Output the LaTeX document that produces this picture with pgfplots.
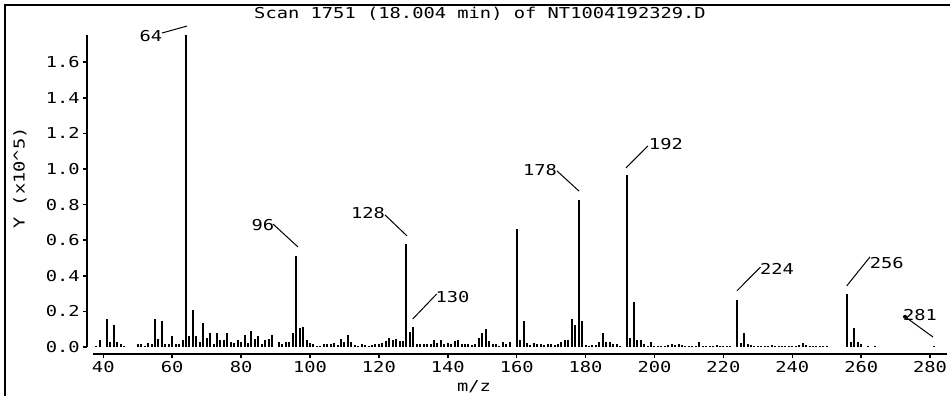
\documentclass[border=0pt]{standalone}
\usepackage{fontspec}
\setmainfont{DejaVu Sans Mono}[FakeStretch=1.25]
\usepackage{pgfplots}
\pgfplotsset{compat=1.18}
\newcommand\lf{\fontsize{15}{17}\selectfont}
\begin{document}
\begin{tikzpicture}[x=1pt,y=1pt]
\useasboundingbox (0,0) rectangle (950,396);
\fill[black] (4,0) rectangle (6,392);
\fill[black] (4,390) rectangle (950,392);
\node[font=\lf, anchor=base] at (480,377) {Scan 1751 (18.004 min) of NT1004192329.D};
\node[font=\lf, rotate=90] at (20,218) {Y (x10\textasciicircum 5)};
\node[font=\lf, anchor=base] at (474,4.5) {m/z};
\begin{axis}[
  at={(87.3pt,42pt)}, anchor=south west,
  x=3.445pt, y=178pt,
  xmin=35.36, xmax=285, ymin=-0.0393, ymax=1.753,
  axis x line*=bottom, axis y line*=left,
  axis line style={draw=none},
  tick align=outside, major tick length=4pt,
  tick style={black, line width=1.5pt},
  xtick={40,60,80,100,120,140,160,180,200,220,240,260,280},
  ytick={0,0.2,0.4,0.6,0.8,1.0,1.2,1.4,1.6},
  /pgf/number format/assume math mode=true,
  ticklabel style={font=\lf},
  yticklabel style={/pgf/number format/fixed, /pgf/number format/fixed zerofill, /pgf/number format/precision=1},
  xticklabel style={/pgf/number format/fixed},
  clip=false,
]
\addplot[ycomb, black, line width=2pt] coordinates {
(38,0.008)(39,0.037)(41,0.157)(42,0.028)(43,0.123)(44,0.026)(45,0.015)(46,0.008)
(50,0.015)(51,0.015)(52,0.008)(53,0.022)(54,0.017)(55,0.157)(56,0.047)(57,0.146)(58,0.015)(59,0.015)
(60,0.06)(61,0.015)(62,0.015)(63,0.037)(64,1.753)(65,0.06)(66,0.208)(67,0.06)(68,0.026)(69,0.134)
(70,0.049)(71,0.078)(72,0.015)(73,0.078)(74,0.037)(75,0.037)(76,0.078)(77,0.026)(78,0.022)(79,0.037)
(80,0.026)(81,0.069)(82,0.022)(83,0.091)(84,0.047)(85,0.06)(86,0.015)(87,0.04)(88,0.047)(89,0.069)
(91,0.026)(92,0.015)(93,0.026)(94,0.026)(95,0.078)(96,0.511)(97,0.104)(98,0.114)(99,0.037)
(100,0.022)(101,0.015)(102,0.008)(103,0.008)(104,0.015)(105,0.019)(106,0.019)(107,0.022)(108,0.013)(109,0.047)
(110,0.026)(111,0.069)(112,0.026)(113,0.013)(114,0.008)(115,0.015)(116,0.011)(117,0.008)(118,0.011)(119,0.019)
(120,0.015)(121,0.022)(122,0.032)(123,0.05)(124,0.037)(125,0.047)(126,0.032)(127,0.032)(128,0.579)(129,0.082)
(130,0.112)(131,0.015)(132,0.015)(133,0.015)(134,0.015)(135,0.015)(136,0.037)(137,0.022)(138,0.037)(139,0.015)
(140,0.022)(141,0.019)(142,0.032)(143,0.041)(144,0.019)(145,0.015)(146,0.015)(147,0.011)(148,0.019)(149,0.05)
(150,0.078)(151,0.1)(152,0.032)(153,0.019)(154,0.019)(155,0.008)(156,0.026)(157,0.019)(158,0.026)
(160,0.661)(161,0.041)(162,0.144)(163,0.022)(164,0.011)(165,0.022)(166,0.015)(167,0.015)(168,0.01)(169,0.019)
(170,0.015)(171,0.01)(172,0.019)(173,0.028)(174,0.037)(175,0.037)(176,0.157)(177,0.123)(178,0.826)(179,0.146)
(180,0.013)(181,0.008)(182,0.01)(183,0.01)(184,0.026)(185,0.078)(186,0.026)(187,0.026)(188,0.019)(189,0.015)
(190,0.008)(192,0.966)(193,0.05)(194,0.253)(195,0.037)(196,0.037)(197,0.019)(198,0.008)(199,0.026)
(200,0.008)(201,0.008)(202,0.008)(203,0.008)(204,0.011)(205,0.015)(206,0.011)(207,0.015)(208,0.011)(209,0.008)
(210,0.008)(211,0.008)(212,0.008)(213,0.026)(214,0.006)(215,0.006)(216,0.006)(217,0.006)(218,0.011)(219,0.006)
(220,0.006)(221,0.006)(222,0.006)(224,0.264)(225,0.02)(226,0.078)(227,0.019)(228,0.011)(229,0.006)
(230,0.006)(231,0.006)(232,0.006)(233,0.006)(234,0.01)(235,0.006)(236,0.006)(237,0.006)(238,0.006)(239,0.006)
(240,0.006)(241,0.006)(242,0.011)(243,0.02)(244,0.011)(245,0.006)(246,0.006)(247,0.006)(248,0.006)(249,0.006)
(250,0.006)(256,0.298)(257,0.028)(258,0.105)(259,0.028)(260,0.019)(262,0.006)(264,0.006)
(281,0.006)
};
% annotations
\begin{scope}[font=\lf]
\node at (axis cs:53.85,1.747) {64};
\draw[line width=1pt] (axis cs:57.04,1.764) -- (axis cs:64.30,1.803);
\node at (axis cs:86.36,0.685) {96};
\draw[line width=1pt] (axis cs:89.26,0.691) -- (axis cs:96.52,0.562);
\node at (axis cs:116.84,0.753) {128};
\draw[line width=1pt] (axis cs:121.77,0.742) -- (axis cs:128.16,0.624);
\node at (axis cs:141.36,0.283) {130};
\draw[line width=1pt] (axis cs:129.81,0.157) -- (axis cs:136.78,0.298);
\node at (axis cs:166.76,0.994) {178};
\draw[line width=1pt] (axis cs:171.70,0.989) -- (axis cs:178.09,0.876);
\node at (axis cs:203.32,1.140) {192};
\draw[line width=1pt] (axis cs:191.71,1.006) -- (axis cs:198.09,1.129);
\node at (axis cs:235.56,0.438) {224};
\draw[line width=1pt] (axis cs:223.95,0.316) -- (axis cs:230.77,0.449);
\node at (axis cs:267.40,0.472) {256};
\draw[line width=1pt] (axis cs:255.79,0.343) -- (axis cs:262.55,0.506);
\node at (axis cs:277.07,0.180) {281};
\draw[line width=1pt] (axis cs:272.72,0.170) -- (axis cs:280.85,0.056);
\fill (axis cs:272.72,0.170) circle (2pt);
\end{scope}
% axis lines
\draw[line width=2pt] (axis cs:37,-0.0393) -- (axis cs:285,-0.0393);
\draw[line width=2pt] (axis cs:35.36,0) -- (axis cs:35.36,1.753);
\end{axis}
\end{tikzpicture}
\end{document}
